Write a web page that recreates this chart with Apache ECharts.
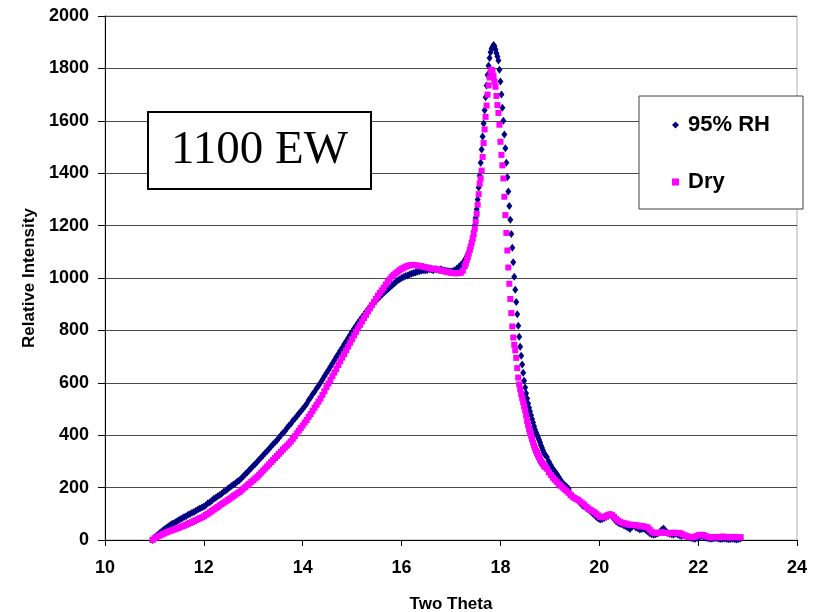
<!DOCTYPE html>
<html><head><meta charset="utf-8">
<script src="https://cdn.jsdelivr.net/npm/echarts/dist/echarts.min.js"></script>
<style>html,body{margin:0;padding:0;background:#fff}#chart{width:815px;height:612px}</style>
</head><body><div id="chart"></div>
<script>
// ---- Tick labels ----
const xTickValues = [10, 12, 14, 16, 18, 20, 22, 24];
const yTickValues = [0, 200, 400, 600, 800, 1000, 1200, 1400, 1600, 1800, 2000];

// ---- Series names ----
const seriesNames = ['95% RH', 'Dry'];

// ---- Two-theta sampling of each segment (start, step) ----
const lowStart = 10.96, lowStep = 0.04;
const peakStart = 17.30, peakStep = 0.02;
const tailStart = 18.94, tailStep = 0.04;

// ---- 95% RH intensities ----
const rhLow = [
0,10,16,22,29,34,41,46,52,57,
62,65,70,74,79,83,88,91,96,99,
104,107,112,116,120,124,128,133,140,144,
150,157,161,167,172,177,184,188,195,200,
206,212,217,223,228,236,243,252,259,267,
275,283,290,299,307,315,323,332,340,348,
357,365,373,381,390,400,408,416,427,436,
444,455,463,472,482,490,500,510,520,533,
544,556,566,578,589,600,613,625,637,649,
661,674,686,698,710,722,734,747,759,771,
783,795,807,818,829,840,850,860,870,880,
889,898,906,914,921,928,936,944,950,957,
964,970,977,984,990,995,1000,1004,1008,1010,
1013,1016,1019,1021,1024,1026,1028,1030,1029,1031,
1033,1032,1030,1034,1032,1031,1033,1030,1029,1027,
1026,1025,1027,1030,1036,1043,1050,1058,1068];
const rhPeak = [
1075,1082,1092,1100,1110,1125,1140,1158,1178,1200,
1230,1262,1300,1345,1390,1440,1490,1540,1590,1640,
1690,1735,1775,1810,1840,1862,1875,1882,
1889,1885,1872,1858,1845,1830,1795,1750,1700,1650,
1600,1548,1495,1440,1385,1330,1275,1222,1168,1115,
1060,1005,955,908,862,818,776,738,703,670,
638,608,582,560,540,521,505,490,476,462,
448,434,422,411,402,392,383,373,362,352,
343,333,325];
const rhTail = [
317,300,285,272,262,252,240,228,218,210,
203,196,176,168,160,156,150,140,132,128,
122,116,110,102,96,88,82,78,80,84,
88,92,96,90,80,72,66,62,60,55,
52,48,42,50,55,48,45,40,42,44,
38,32,26,22,20,22,25,30,38,44,
35,28,24,22,20,25,22,18,15,18,
16,12,10,8,6,5,8,12,15,14,
10,8,6,5,6,8,7,5,4,5,
6,4,3,4,5,3,2,4,6];

// ---- Dry intensities ----
const dryLow = [
0,6,10,15,18,22,25,29,32,35,
37,40,43,46,49,52,55,58,62,65,
68,72,76,79,83,86,90,96,100,105,
111,116,121,126,132,137,142,147,152,157,
162,168,173,178,183,189,196,202,209,215,
222,228,235,241,249,257,265,273,281,289,
297,305,313,321,329,337,345,353,360,368,
376,386,396,407,417,427,437,448,458,470,
481,493,505,516,528,540,554,568,583,597,
611,625,639,653,668,682,696,710,724,738,
753,767,781,795,808,821,834,847,859,872,
884,896,908,920,932,943,953,963,975,985,
995,1005,1012,1018,1024,1030,1035,1039,1043,1046,
1048,1050,1050,1049,1047,1046,1045,1043,1041,1040,
1038,1036,1035,1034,1032,1031,1029,1027,1025,1023,
1022,1020,1019,1018,1018,1019,1020,1028,1045];
const dryPeak = [
1055,1069,1080,1093,1107,1120,1135,1150,1168,1188,
1215,1245,1280,1320,1360,1380,1410,1462,1515,1567,
1615,1658,1700,1735,1765,1790,1795,
1786,1770,1750,1730,1695,1660,1630,1585,1520,1470,
1430,1380,1310,1240,1172,1105,1040,978,920,866,
815,773,745,724,695,656,620,594,575,557,
542,526,510,495,475,454,438,422,408,398,
385,372,360,350,340,332,324,316,308,301,
295,290,284,279];
const dryTail = [
272,258,248,238,230,222,214,207,200,193,
187,180,172,165,160,156,152,146,140,134,
126,120,115,110,106,100,94,88,86,88,
92,96,98,95,88,80,74,69,66,64,
62,60,58,57,58,57,55,52,54,52,
50,48,40,32,28,26,27,28,30,28,
27,27,25,27,28,26,27,27,24,20,
17,14,12,11,11,13,16,19,20,19,
16,13,11,10,11,12,11,10,12,13,
12,11,11,10,11,12,11,10,11];

function seg(start, step, vals) {
  return vals.map((v, i) => [+(start + step * i).toFixed(2), v]);
}
const rhData = [].concat(seg(lowStart, lowStep, rhLow), seg(peakStart, peakStep, rhPeak), seg(tailStart, tailStep, rhTail));
const dryData = [].concat(seg(lowStart, lowStep, dryLow), seg(peakStart, peakStep, dryPeak), seg(tailStart, tailStep, dryTail));

const SANS = "'Liberation Sans', Arial, sans-serif";
const SERIF = "'Liberation Serif', 'Times New Roman', serif";

const chart = echarts.init(document.getElementById('chart'), null, {renderer: 'canvas'});
chart.setOption({
  animation: false,
  backgroundColor: '#fff',
  grid: {left: 105, right: 18, top: 16, bottom: 72, containLabel: false, outerBoundsMode: 'none',
         show: true, borderColor: '#b0b0b0', borderWidth: 1, backgroundColor: 'transparent'},
  xAxis: {
    type: 'value',
    min: xTickValues[0], max: xTickValues[xTickValues.length - 1], interval: xTickValues[1] - xTickValues[0],
    name: 'Two Theta', nameLocation: 'middle', nameGap: 56,
    nameTextStyle: {fontFamily: SANS, fontWeight: 'bold', fontSize: 17, color: '#000'},
    axisLine: {show: true, onZero: false, lineStyle: {color: '#000', width: 1}},
    axisTick: {show: true, inside: false, length: 6, lineStyle: {color: '#000', width: 1}},
    axisLabel: {fontFamily: SANS, fontWeight: 'bold', fontSize: 18, color: '#000', margin: 19,
                formatter: v => String(v)},
    splitLine: {show: false}
  },
  yAxis: {
    type: 'value',
    min: yTickValues[0], max: yTickValues[yTickValues.length - 1], interval: yTickValues[1] - yTickValues[0],
    name: 'Relative Intensity', nameLocation: 'middle', nameGap: 67, nameRotate: 90,
    nameTextStyle: {fontFamily: SANS, fontWeight: 'bold', fontSize: 17, color: '#000'},
    axisLine: {show: true, lineStyle: {color: '#000', width: 1}},
    axisTick: {show: true, inside: false, length: 7, lineStyle: {color: '#000', width: 1}},
    axisLabel: {fontFamily: SANS, fontWeight: 'bold', fontSize: 18, color: '#000', margin: 16,
                formatter: v => String(v)},
    splitLine: {show: true, lineStyle: {color: '#4a4a4a', width: 1}}
  },
  legend: [
    {data: [seriesNames[0]], orient: 'vertical', left: 672, top: 113, padding: 0, z: 20,
     itemWidth: 7, itemHeight: 7,
     textStyle: {fontFamily: SANS, fontWeight: 'bold', fontSize: 22, color: '#000', lineHeight: 24, padding: [0, 0, 0, 4]}},
    {data: [seriesNames[1]], orient: 'vertical', left: 672, top: 170, padding: 0, z: 20,
     itemWidth: 7, itemHeight: 7,
     textStyle: {fontFamily: SANS, fontWeight: 'bold', fontSize: 22, color: '#000', lineHeight: 24, padding: [0, 0, 0, 4]}}
  ],
  graphic: [
    {type: 'rect', z: 10, shape: {x: 639, y: 96, width: 164, height: 113},
     style: {fill: '#fff', stroke: '#404040', lineWidth: 1}},
    {type: 'rect', z: 10, shape: {x: 148, y: 112, width: 223, height: 77},
     style: {fill: '#fff', stroke: '#000', lineWidth: 2}},
    {type: 'text', z: 11, x: 259.5, y: 151,
     style: {text: '1100 EW', font: '47px ' + SERIF, fill: '#000', textAlign: 'center', textVerticalAlign: 'middle'}}
  ],
  series: [
    {type: 'scatter', name: seriesNames[0], data: rhData, symbol: 'diamond', symbolSize: [6, 8],
     itemStyle: {color: '#000080', opacity: 1}, z: 2, large: false},
    {type: 'scatter', name: seriesNames[1], data: dryData, symbol: 'rect', symbolSize: 6,
     itemStyle: {color: '#FF00FF', opacity: 1}, z: 3, large: false}
  ]
});
</script></body></html>
